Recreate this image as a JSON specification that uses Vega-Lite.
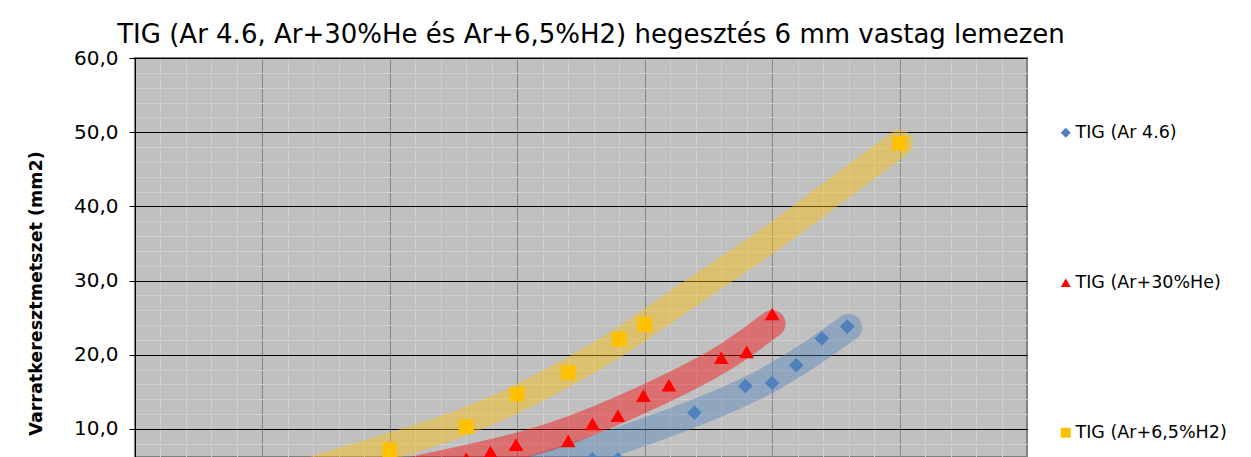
{
  "$schema": "https://vega.github.io/schema/vega-lite/v6.json",
  "width": 892,
  "height": 399,
  "autosize": {"type": "none"},
  "padding": {"left": 135, "top": 58, "right": 224, "bottom": 0},
  "background": "white",
  "config": {
    "font": "DejaVu Sans",
    "view": {"fill": "#C0C0C0", "stroke": "#808080", "strokeWidth": 2}
  },
  "title": {
    "text": "TIG (Ar 4.6, Ar+30%He és Ar+6,5%H2) hegesztés 6 mm vastag lemezen",
    "font": "DejaVu Sans",
    "fontSize": 26,
    "fontWeight": "normal",
    "color": "#000000",
    "anchor": "middle",
    "frame": "group",
    "baseline": "alphabetic",
    "offset": 12,
    "dx": 10,
    "dy": 33
  },
  "datasets": {
    "pts": [
      {"series": "TIG (Ar 4.6)", "x": 3.59, "y": 5.9},
      {"series": "TIG (Ar 4.6)", "x": 3.79, "y": 5.9},
      {"series": "TIG (Ar 4.6)", "x": 4.39, "y": 12.2},
      {"series": "TIG (Ar 4.6)", "x": 4.79, "y": 15.8},
      {"series": "TIG (Ar 4.6)", "x": 5.0, "y": 16.2},
      {"series": "TIG (Ar 4.6)", "x": 5.19, "y": 18.6},
      {"series": "TIG (Ar 4.6)", "x": 5.39, "y": 22.2},
      {"series": "TIG (Ar 4.6)", "x": 5.59, "y": 23.8},
      {"series": "TIG (Ar+30%He)", "x": 2.6, "y": 6.0},
      {"series": "TIG (Ar+30%He)", "x": 2.79, "y": 6.9},
      {"series": "TIG (Ar+30%He)", "x": 2.99, "y": 7.9},
      {"series": "TIG (Ar+30%He)", "x": 3.4, "y": 8.4},
      {"series": "TIG (Ar+30%He)", "x": 3.59, "y": 10.7},
      {"series": "TIG (Ar+30%He)", "x": 3.79, "y": 11.8},
      {"series": "TIG (Ar+30%He)", "x": 3.99, "y": 14.5},
      {"series": "TIG (Ar+30%He)", "x": 4.19, "y": 15.9},
      {"series": "TIG (Ar+30%He)", "x": 4.6, "y": 19.6},
      {"series": "TIG (Ar+30%He)", "x": 4.8, "y": 20.4},
      {"series": "TIG (Ar+30%He)", "x": 5.0, "y": 25.5},
      {"series": "TIG (Ar+6,5%H2)", "x": 2.0, "y": 7.2},
      {"series": "TIG (Ar+6,5%H2)", "x": 2.6, "y": 10.3},
      {"series": "TIG (Ar+6,5%H2)", "x": 3.0, "y": 14.7},
      {"series": "TIG (Ar+6,5%H2)", "x": 3.4, "y": 17.6},
      {"series": "TIG (Ar+6,5%H2)", "x": 3.8, "y": 22.1},
      {"series": "TIG (Ar+6,5%H2)", "x": 4.0, "y": 24.1},
      {"series": "TIG (Ar+6,5%H2)", "x": 6.0, "y": 48.5}
    ],
    "bands": [
      {"curve": "blue", "x": 2.9, "y": 3.4},
      {"curve": "blue", "x": 3.6, "y": 7.2},
      {"curve": "blue", "x": 4.4, "y": 12.0},
      {"curve": "blue", "x": 5.0, "y": 16.6},
      {"curve": "blue", "x": 5.4, "y": 21.2},
      {"curve": "blue", "x": 5.6, "y": 23.7},
      {"curve": "red", "x": 2.0, "y": 3.8},
      {"curve": "red", "x": 2.6, "y": 6.0},
      {"curve": "red", "x": 3.0, "y": 7.6},
      {"curve": "red", "x": 3.4, "y": 9.6},
      {"curve": "red", "x": 4.0, "y": 14.0},
      {"curve": "red", "x": 4.6, "y": 19.0},
      {"curve": "red", "x": 5.0, "y": 24.2},
      {"curve": "yellow", "x": 1.3, "y": 4.0},
      {"curve": "yellow", "x": 2.0, "y": 7.6},
      {"curve": "yellow", "x": 2.6, "y": 10.9},
      {"curve": "yellow", "x": 3.0, "y": 14.0},
      {"curve": "yellow", "x": 3.4, "y": 17.6},
      {"curve": "yellow", "x": 3.8, "y": 21.6},
      {"curve": "yellow", "x": 4.0, "y": 24.0},
      {"curve": "yellow", "x": 4.4, "y": 28.8},
      {"curve": "yellow", "x": 5.0, "y": 35.6},
      {"curve": "yellow", "x": 5.43, "y": 41.3},
      {"curve": "yellow", "x": 6.0, "y": 48.5}
    ]
  },
  "layer": [
    {
      "data": {"name": "pts"},
      "mark": {"type": "point", "opacity": 0},
      "encoding": {
        "x": {
          "field": "x", "type": "quantitative",
          "scale": {"domain": [0, 7], "nice": false, "zero": false},
          "axis": {
            "orient": "bottom", "title": null, "labels": false, "ticks": false, "domain": false,
            "grid": true, "gridColor": "#CFCFCF", "gridWidth": 1,
            "values": [0.2, 0.4, 0.6, 0.8, 1.2, 1.4, 1.6, 1.8, 2.2, 2.4, 2.6, 2.8, 3.2, 3.4, 3.6, 3.8, 4.2, 4.4, 4.6, 4.8, 5.2, 5.4, 5.6, 5.8, 6.2, 6.4, 6.6, 6.8]
          }
        },
        "y": {
          "field": "y", "type": "quantitative",
          "scale": {"domain": [6.226, 60], "nice": false, "zero": false},
          "axis": {
            "orient": "left", "title": null, "labels": false, "ticks": false, "domain": false,
            "grid": true, "gridColor": "#CFCFCF", "gridWidth": 1,
            "values": [8, 12, 14, 16, 18, 22, 24, 26, 28, 32, 34, 36, 38, 42, 44, 46, 48, 52, 54, 56, 58]
          }
        }
      }
    },
    {
      "data": {"name": "bands"},
      "mark": {"type": "line", "clip": true, "strokeWidth": 27, "strokeCap": "round", "strokeJoin": "round", "opacity": 0.42, "interpolate": "basis"},
      "encoding": {
        "x": {
          "field": "x", "type": "quantitative",
          "axis": {
            "orient": "bottom", "title": null, "labels": false, "ticks": false, "domain": false,
            "grid": true, "gridColor": "#868686", "gridWidth": 1,
            "values": [0, 1, 2, 3, 4, 5, 6, 7]
          }
        },
        "y": {
          "field": "y", "type": "quantitative",
          "axis": {
            "orient": "left",
            "values": [10, 20, 30, 40, 50, 60],
            "grid": true, "gridColor": "#000000", "gridWidth": 1,
            "domain": true, "domainColor": "#000000", "domainWidth": 1,
            "ticks": true, "tickColor": "#000000", "tickSize": 6,
            "labelFont": "DejaVu Sans", "labelFontSize": 20, "labelColor": "#000000", "labelPadding": 11,
            "labelExpr": "replace(format(datum.value, '.1f'), '.', ',')",
            "title": "Varratkeresztmetszet (mm2)",
            "titleFont": "DejaVu Sans", "titleFontSize": 17.5, "titleFontWeight": "bold", "titleColor": "#000000",
            "titleAngle": -90, "titleAlign": "center", "titleBaseline": "alphabetic",
            "titleX": -94, "titleY": 235
          }
        },
        "detail": {"field": "curve"},
        "stroke": {
          "field": "curve", "type": "nominal", "legend": null,
          "scale": {"domain": ["blue", "red", "yellow"], "range": ["#4F81BD", "#FF0000", "#FFC000"]}
        }
      }
    },
    {
      "data": {"name": "pts"},
      "mark": {"type": "point", "filled": true, "opacity": 1, "size": 215, "clip": true},
      "encoding": {
        "x": {"field": "x", "type": "quantitative", "axis": null},
        "y": {"field": "y", "type": "quantitative", "axis": null},
        "color": {
          "field": "series", "type": "nominal",
          "scale": {"domain": ["TIG (Ar 4.6)", "TIG (Ar+30%He)", "TIG (Ar+6,5%H2)"], "range": ["#4F81BD", "#FF0000", "#FFC000"]},
          "legend": {
            "orient": "none", "legendX": 922, "legendY": 66, "direction": "vertical",
            "title": null, "rowPadding": 131, "symbolSize": 100, "labelOffset": 1,
            "labelFont": "DejaVu Sans", "labelFontSize": 17.5, "labelColor": "#000000"
          }
        },
        "shape": {
          "field": "series", "type": "nominal",
          "scale": {"domain": ["TIG (Ar 4.6)", "TIG (Ar+30%He)", "TIG (Ar+6,5%H2)"], "range": ["diamond", "triangle-up", "square"]},
          "legend": {
            "orient": "none", "legendX": 922, "legendY": 66, "direction": "vertical",
            "title": null, "rowPadding": 131, "symbolSize": 100, "labelOffset": 1,
            "labelFont": "DejaVu Sans", "labelFontSize": 17.5, "labelColor": "#000000"
          }
        }
      }
    }
  ],
  "resolve": {"axis": {"x": "independent", "y": "independent"}}
}
